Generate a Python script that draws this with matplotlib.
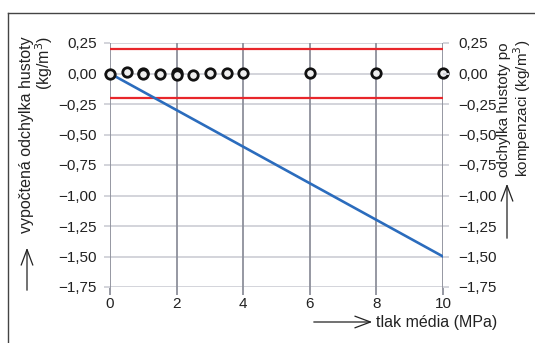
import numpy as np
import matplotlib.pyplot as plt
from matplotlib.lines import Line2D
from matplotlib.patches import FancyArrowPatch
from matplotlib.ticker import FuncFormatter

plt.rcParams['font.family'] = ['Liberation Sans', 'DejaVu Sans']

# vypočtená odchylka (přímka)
p_line = [0, 10]
dev_line = [0.0, -1.5]

# meze tolerance
limit_hi = 0.2
limit_lo = -0.2

# odchylka po kompenzaci (body)
p_pts = [0, 0.5, 1, 1, 1.5, 2, 2, 2.5, 3, 3.5, 4, 6, 8, 10]
dev_pts = [0.0, 0.012, 0.008, -0.006, -0.004, 0.006, -0.012, -0.012, 0.005, 0.002, 0.005, 0.005, 0.005, 0.005]

xticks = [0, 2, 4, 6, 8, 10]
yticks = [0.25, 0.0, -0.25, -0.5, -0.75, -1.0, -1.25, -1.5, -1.75]

hgrid = '#d3d4da'
vgrid = '#8d909b'
txt = '#222222'

fig = plt.figure(figsize=(5.35, 3.43), dpi=100)
ax = fig.add_axes([110 / 535, 1 - 287 / 343, 333 / 535, 244 / 343])

ax.set_xlim(0, 10)
ax.set_ylim(-1.75, 0.25)
ax.set_xticks(xticks)
ax.set_yticks(yticks)
for s in ax.spines.values():
    s.set_visible(False)

for y in yticks:
    ax.axhline(y, color=hgrid, lw=1.4, zorder=0)
for x in xticks:
    ax.axvline(x, color=vgrid, lw=1.3, zorder=0.5)

fmt = FuncFormatter(lambda v, p: ('%.2f' % v).replace('.', ',').replace('-', '\u2212'))
ax.yaxis.set_major_formatter(fmt)
ax.tick_params(axis='y', colors=hgrid, width=1.4, length=4, pad=5.5,
               labelcolor=txt, labelsize=11)
ax.tick_params(axis='x', colors=vgrid, width=1.3, length=6, pad=1,
               labelcolor=txt, labelsize=11)

ax2 = ax.twinx()
ax2.set_ylim(-1.75, 0.25)
ax2.set_yticks(yticks)
ax2.yaxis.set_major_formatter(fmt)
for s in ax2.spines.values():
    s.set_visible(False)
ax2.tick_params(axis='y', colors=hgrid, width=1.4, length=4, pad=7,
                labelcolor=txt, labelsize=11)

ax.plot([0, 10], [limit_hi, limit_hi], color='#e8262b', lw=1.6, zorder=2)
ax.plot([0, 10], [limit_lo, limit_lo], color='#e8262b', lw=1.6, zorder=2)
ax.plot(p_line, dev_line, color='#2b6cbd', lw=1.9, zorder=3)
ax.plot(p_pts, dev_pts, 'o', ms=6.8, mew=2.0, mec='#111111', mfc='#eeeeee',
        zorder=4, clip_on=False)

# popisky os
fig.text(37 / 535, 1 - 36 / 343, 'vypočtená odchylka hustoty\n(kg/m$^3$)', rotation=90,
         ha='center', va='top', multialignment='right', linespacing=1.0,
         fontsize=11.5, color=txt)
fig.text(515 / 535, 1 - 177 / 343, 'odchylka hustoty po\nkompenzaci (kg/m$^3$)', rotation=90,
         ha='center', va='bottom', multialignment='left', linespacing=1.0,
         fontsize=11, color=txt)
fig.text(376 / 535, 1 - 322 / 343, 'tlak média (MPa)',
         ha='left', va='center', fontsize=11.5, color=txt)

arrow = dict(arrowstyle='->,head_width=0.3,head_length=0.8', color=txt, lw=0.9,
             mutation_scale=14, transform=fig.transFigure)
fig.patches.append(FancyArrowPatch((27 / 535, 1 - 293 / 343), (27 / 535, 1 - 245 / 343), **arrow))
fig.patches.append(FancyArrowPatch((507 / 535, 1 - 241 / 343), (507 / 535, 1 - 181 / 343), **arrow))
fig.patches.append(FancyArrowPatch((311 / 535, 1 - 322 / 343), (375 / 535, 1 - 322 / 343), **arrow))

# rámeček
fig.lines.append(Line2D([8 / 535, 8 / 535], [0, 1 - 13 / 343], transform=fig.transFigure,
                        color='#444444', lw=1.0))
fig.lines.append(Line2D([8 / 535, 1], [1 - 13 / 343, 1 - 13 / 343], transform=fig.transFigure,
                        color='#444444', lw=1.0))

fig.savefig('out.png', dpi=100)
